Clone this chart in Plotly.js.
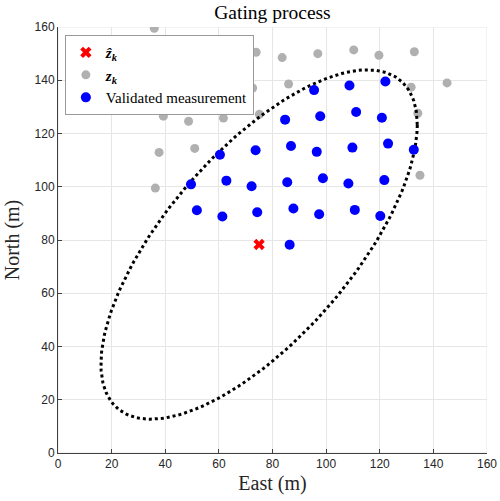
<!DOCTYPE html>
<html>
<head>
<meta charset="utf-8">
<script src="https://cdn.plot.ly/plotly-3.0.1.min.js"></script>
<style>html,body{margin:0;padding:0;background:#fff;}#chart{width:500px;height:501px;}</style>
</head>
<body>
<div id="chart"></div>
<script>
// Predicted measurement (gate centre)
const zhatEast = [75.0];
const zhatNorth = [78.3];

// All measurements z_k outside the gate (visible grey points)
const zEast = [35.9, 73.9, 83.6, 96.9, 110.3, 119.7, 132.9, 23.5, 36.8, 59.4, 72.6, 86.0, 131.7, 145.1,
  39.3, 48.7, 61.7, 75.1, 134.2, 37.7, 51.0, 36.3, 135.0];
const zNorth = [159.5, 150.5, 148.5, 150.0, 151.4, 149.4, 150.7, 134.8, 136.0, 135.3, 137.1, 138.6, 137.4, 139.0,
  126.5, 124.6, 125.8, 127.2, 127.6, 112.9, 114.4, 99.5, 104.3];

// Validated measurements (inside the gate)
const vEast = [95.5, 108.7, 122.1, 84.7, 97.8, 111.2, 120.8, 60.4, 73.7, 86.9, 96.5, 109.8, 123.1, 132.7,
  49.6, 62.8, 72.2, 85.5, 98.8, 108.3, 121.7, 51.8, 61.3, 74.3, 87.8, 97.4, 110.7, 120.2, 86.4];
const vNorth = [136.3, 138.0, 139.5, 125.2, 126.5, 128.1, 125.9, 112.0, 113.7, 115.3, 113.1, 114.7, 116.2, 113.9,
  100.9, 102.3, 100.2, 101.7, 103.2, 101.2, 102.5, 91.2, 88.8, 90.4, 91.8, 89.7, 91.3, 89.0, 78.2];

// Gate matrix (gamma * S), read from the ellipse extents
const gateMatrix = [[3480, 2650], [2650, 4303]];

const xTicks = [0, 20, 40, 60, 80, 100, 120, 140, 160];
const yTicks = [0, 20, 40, 60, 80, 100, 120, 140, 160];

// Ellipse boundary from centre and gate matrix (Cholesky factor)
const L11 = Math.sqrt(gateMatrix[0][0]);
const L21 = gateMatrix[1][0] / L11;
const L22 = Math.sqrt(gateMatrix[1][1] - L21 * L21);
const eX = [], eY = [];
const nSeg = 240;
for (let i = 0; i <= nSeg; i++) {
  const t = 2 * Math.PI * i / nSeg;
  eX.push(zhatEast[0] + L11 * Math.cos(t));
  eY.push(zhatNorth[0] + L21 * Math.cos(t) + L22 * Math.sin(t));
}

const serif = 'Liberation Serif, Times New Roman, serif';
const sans = 'Liberation Sans, Arial, sans-serif';

const traces = [
  {x: zEast, y: zNorth, type: 'scatter', mode: 'markers', name: '<b><i>z</i></b><sub><b><i>k</i></b></sub>',
   marker: {color: '#b0b0b0', size: 9}, legendrank: 2},
  {x: eX, y: eY, type: 'scatter', mode: 'lines', showlegend: false, hoverinfo: 'skip',
   line: {color: '#000000', width: 3, dash: '3px,3px'}},
  {x: vEast, y: vNorth, type: 'scatter', mode: 'markers', name: 'Validated measurement',
   marker: {color: '#0000ff', size: 10}, legendrank: 3},
  {x: zhatEast, y: zhatNorth, type: 'scatter', mode: 'markers', name: '<b><i>ẑ</i></b><sub><b><i>k</i></b></sub>',
   marker: {color: '#ff0000', size: 10, symbol: 'x'}, legendrank: 1}
];

const axisCommon = {
  range: [0, 160], showgrid: true, gridcolor: '#e6e6e6', gridwidth: 1,
  showline: true, linecolor: '#404040', linewidth: 1, ticks: 'inside', ticklen: 4, tickcolor: '#404040',
  zeroline: false, tickfont: {family: sans, size: 12, color: '#262626'}, fixedrange: true
};

const layout = {
  width: 500, height: 501,
  margin: {l: 58, r: 13, t: 27, b: 48},
  paper_bgcolor: '#ffffff', plot_bgcolor: '#ffffff',
  title: {text: 'Gating process', font: {family: serif, size: 19.5, color: '#000000'},
          x: 0.545, xanchor: 'center', y: 0.976, yanchor: 'middle', yref: 'container'},
  xaxis: Object.assign({}, axisCommon, {tickvals: xTicks, ticktext: xTicks.map(String),
    title: {text: 'East (m)', font: {family: serif, size: 20, color: '#262626'}, standoff: 5}}),
  yaxis: Object.assign({}, axisCommon, {tickvals: yTicks, ticktext: yTicks.map(String),
    title: {text: 'North (m)', font: {family: serif, size: 20, color: '#262626'}, standoff: 9}}),
  legend: {x: 0.016, y: 0.981, xanchor: 'left', yanchor: 'top', bgcolor: '#ffffff',
           bordercolor: '#9a9a9a', borderwidth: 1, font: {family: serif, size: 15, color: '#000000'},
           tracegroupgap: 0, itemwidth: 30},
  shapes: [{type: 'rect', xref: 'x', yref: 'y', x0: 0, x1: 160, y0: 0, y1: 160,
            line: {color: '#e6e6e6', width: 1}, layer: 'below'}],
  showlegend: true
};

Plotly.newPlot('chart', traces, layout, {displayModeBar: false, staticPlot: true});
</script>
</body>
</html>
